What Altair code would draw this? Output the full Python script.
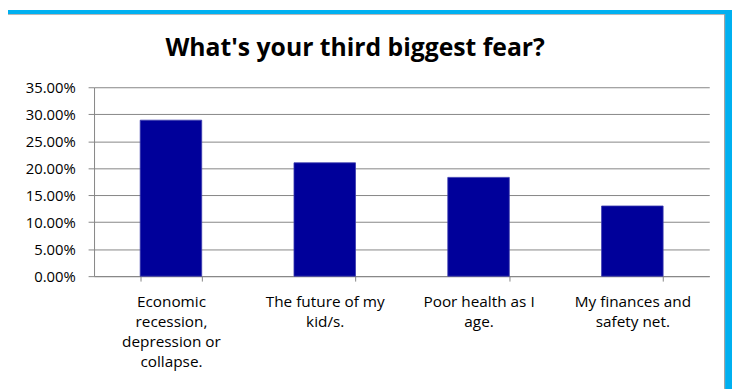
import altair as alt
import pandas as pd

title_text = "What's your third biggest fear?"
categories = [
    "Economic|recession,|depression or|collapse.",
    "The future of my|kid/s.",
    "Poor health as I|age.",
    "My finances and|safety net.",
]
values = [0.289, 0.210, 0.183, 0.130]
y_ticks = [0, 0.05, 0.10, 0.15, 0.20, 0.25, 0.30, 0.35]

df = pd.DataFrame({"cat": categories, "val": values})
deco = pd.DataFrame({"k": [0]})

FONT = "Open Sans"
GRAY = "#868686"
BLUE_FRAME = "#00B0F0"

bars = alt.Chart(df).mark_bar(color="#00009A", stroke="#3a3aae", strokeWidth=0.8).encode(
    x=alt.X(
        "cat:N",
        sort=None,
        title=None,
        scale=alt.Scale(paddingInner=0.6, paddingOuter=0.3),
        axis=alt.Axis(
            labelExpr="split(datum.label, '|')",
            labelAngle=0,
            labelFont=FONT,
            labelFontSize=15.5,
            labelColor="black",
            labelLineHeight=20,
            labelPadding=14,
            labelBaseline="top",
            tickBand="extent",
            tickSize=5,
            tickColor=GRAY,
            domainColor=GRAY,
            labelLimit=200,
        ),
    ),
    y=alt.Y(
        "val:Q",
        title=None,
        scale=alt.Scale(domain=[0, 0.35], nice=False),
        axis=alt.Axis(
            values=y_ticks,
            format=".2%",
            labelFont=FONT,
            labelFontSize=15,
            labelColor="black",
            labelPadding=13,
            tickSize=6,
            tickColor=GRAY,
            domainColor=GRAY,
            gridColor=GRAY,
            gridWidth=1,
        ),
    ),
)

title = alt.Chart(deco).mark_text(
    text=title_text,
    font=FONT,
    fontSize=25,
    fontWeight="bold",
    color="black",
    align="center",
    baseline="alphabetic",
).encode(x=alt.value(264), y=alt.value(-32))

top_strip = alt.Chart(deco).mark_rect(color=BLUE_FRAME).encode(
    x=alt.value(-87), x2=alt.value(645), y=alt.value(-78), y2=alt.value(-74)
)
right_strip = alt.Chart(deco).mark_rect(color=BLUE_FRAME).encode(
    x=alt.value(638), x2=alt.value(645), y=alt.value(-78), y2=alt.value(305)
)
top_line = alt.Chart(deco).mark_rule(color="#b4b4b4", strokeWidth=1).encode(
    x=alt.value(-87), x2=alt.value(638), y=alt.value(-73.5)
)
right_line = alt.Chart(deco).mark_rule(color="#9a9a9a", strokeWidth=1).encode(
    x=alt.value(637.5), y=alt.value(-74), y2=alt.value(305)
)

chart = alt.layer(bars, title, top_strip, right_strip, top_line, right_line).properties(
    width=622,
    height=191,
    autosize=alt.AutoSizeParams(type="none"),
    padding={"left": 87, "top": 78, "right": 23, "bottom": 114},
    background="white",
).configure_view(stroke=None)

chart.save("out.html", embed_options={"renderer": "svg", "actions": False})
